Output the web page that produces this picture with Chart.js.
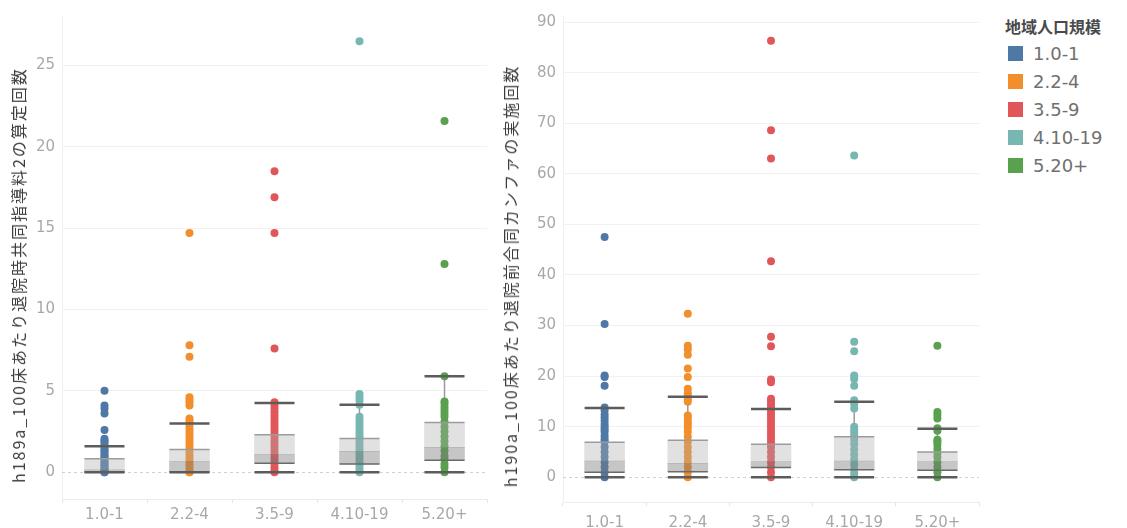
<!DOCTYPE html>
<html>
<head>
<meta charset="utf-8">
<script src="https://cdn.jsdelivr.net/npm/chart.js@4.4.1/dist/chart.umd.min.js"></script>
<style>
  html, body { margin: 0; padding: 0; background: #fff; width: 1127px; height: 528px; overflow: hidden; }
  .pane { position: absolute; top: 0; height: 528px; }
  #pane1 { left: 0; width: 495px; }
  #pane2 { left: 495px; width: 495px; }
  .ytitle {
    position: absolute; white-space: nowrap;
    font-family: "Noto Sans CJK JP", "Open Sans", sans-serif;
    font-size: 16px; color: #3c3c3c; letter-spacing: 2px;
    transform: translate(-50%, -50%) rotate(-90deg);
  }
  .legend { position: absolute; left: 1005px; top: 14px; font-family: "DejaVu Sans", sans-serif; }
  .legend .lt { font-family: "Noto Sans CJK JP", sans-serif; font-size: 16px; font-weight: bold; color: #4a4a4a; height: 24px; line-height: 24px; margin-bottom: 2px; }
  .legend .li { position: relative; height: 28px; line-height: 28px; font-size: 18px; color: #707070; padding-left: 28px; }
  .legend .sw { position: absolute; left: 3px; top: 6px; width: 15px; height: 15px; }
</style>
</head>
<body>
<div class="pane" id="pane1"><canvas id="c1" width="495" height="528"></canvas></div>
<div class="pane" id="pane2"><canvas id="c2" width="495" height="528"></canvas></div>
<div class="ytitle" id="t1" style="left:18px; top:275px;"></div>
<div class="ytitle" id="t2" style="left:510px; top:276px;"></div>
<div class="legend" id="legend"></div>

<script>
// Region size groups (categories) and their colours
const categories = ['1.0-1', '2.2-4', '3.5-9', '4.10-19', '5.20+'];
const colors = ['#4e79a7', '#f28e2b', '#e15759', '#76b7b2', '#59a14f'];
const legendTitle = '地域人口規模';

// h189a: per-hospital values by group
const h189Titles = 'h189a_100床あたり退院時共同指導料2の算定回数';
const h189g1 = [5.0, 4.1, 3.9, 3.6, 2.6, 2.05, 1.95, 1.85, 1.7, 1.55, 1.4, 1.3, 1.2, 1.05, 0.95, 0.85, 0.7, 0.6, 0.5, 0.4, 0.3, 0.2, 0.1, 0, 0];
const h189g2 = [14.7, 7.8, 7.1, 4.6, 4.45, 4.3, 4.1, 3.3, 3.15, 3.0, 2.8, 2.6, 2.4, 2.2, 2.0, 1.8, 1.6, 1.4, 1.2, 1.0, 0.8, 0.6, 0.4, 0.2, 0, 0];
const h189g3 = [18.5, 16.9, 14.7, 7.6, 4.3, 4.1, 3.9, 3.7, 3.5, 3.3, 3.1, 2.9, 2.7, 2.5, 2.3, 2.1, 1.9, 1.7, 1.5, 1.3, 1.1, 0.9, 0.7, 0.5, 0.3, 0.1, 0];
const h189g4 = [26.5, 4.8, 4.6, 4.4, 4.15, 3.4, 3.2, 3.0, 2.8, 2.6, 2.4, 2.2, 2.0, 1.8, 1.6, 1.4, 1.2, 1.0, 0.8, 0.6, 0.4, 0.2, 0];
const h189g5 = [21.6, 12.8, 5.9, 4.35, 4.2, 4.0, 3.8, 3.6, 3.4, 3.1, 2.8, 2.5, 2.2, 1.9, 1.6, 1.3, 1.0, 0.8, 0.5, 0.3, 0];
const h189Lo = [0, 0, 0, 0, 0];
const h189Q1 = [0, 0, 0.55, 0.5, 0.73];
const h189Med = [0.15, 0.67, 1.1, 1.28, 1.52];
const h189Q3 = [0.82, 1.4, 2.3, 2.07, 3.05];
const h189Hi = [1.6, 3.0, 4.25, 4.15, 5.9];
const h189Ticks = [0, 5, 10, 15, 20, 25];

// h190a: per-hospital values by group
const h190Titles = 'h190a_100床あたり退院前合同カンファの実施回数';
const h190g1 = [47.5, 30.3, 20.1, 19.8, 18.1, 13.8, 13.2, 12.4, 11.8, 11.2, 10.5, 10.0, 9.5, 9.0, 8.2, 7.5, 7.0, 6.0, 5.0, 4.0, 3.0, 2.0, 1.0, 0];
const h190g2 = [32.3, 26.0, 25.3, 24.2, 21.5, 19.8, 17.5, 16.6, 16.0, 15.4, 14.9, 12.2, 11.7, 11.0, 10.4, 9.8, 9.0, 8.0, 7.0, 6.0, 5.0, 4.0, 3.0, 2.0, 1.0, 0];
const h190g3 = [86.3, 68.6, 63.0, 42.7, 27.8, 25.9, 19.3, 18.8, 15.5, 15.0, 14.4, 13.8, 13.1, 12.4, 11.7, 11.0, 10.3, 9.6, 8.9, 8.2, 7.5, 6.8, 6.0, 5.0, 4.0, 3.0, 2.0, 1.0, 0];
const h190g4 = [63.6, 26.8, 24.9, 20.1, 19.4, 18.1, 15.2, 14.5, 13.6, 10.0, 9.4, 8.8, 8.2, 7.4, 6.5, 5.5, 4.5, 3.5, 2.5, 1.5, 0.7, 0];
const h190g5 = [26.0, 12.9, 12.3, 11.6, 9.7, 9.2, 7.4, 7.0, 6.4, 5.6, 4.8, 4.0, 3.0, 2.0, 1.0, 0];
const h190Lo = [0, 0, 0, 0, 0];
const h190Q1 = [1.0, 1.1, 1.9, 1.5, 1.4];
const h190Med = [3.2, 2.75, 3.1, 3.2, 3.1];
const h190Q3 = [6.9, 7.3, 6.5, 8.0, 5.0];
const h190Hi = [13.7, 15.9, 13.5, 14.9, 9.6];
const h190Ticks = [0, 10, 20, 30, 40, 50, 60, 70, 80, 90];

const FONT = '"DejaVu Sans", sans-serif';

// Whisker stems, caps, box edges and the dashed zero line
const boxDecor = {
  id: 'boxDecor',
  beforeDatasetsDraw(chart) {
    const st = chart.options.plugins.boxDecor;
    const { ctx, chartArea } = chart;
    const xs = chart.scales.x, ys = chart.scales.y;
    ctx.save();
    // zero line
    const y0 = Math.round(ys.getPixelForValue(0)) + 0.5;
    ctx.strokeStyle = '#d2d2d2';
    ctx.lineWidth = 1;
    ctx.setLineDash([3, 3]);
    ctx.beginPath();
    ctx.moveTo(chartArea.left, y0);
    ctx.lineTo(chartArea.right, y0);
    ctx.stroke();
    ctx.setLineDash([]);
    // whisker stems
    ctx.strokeStyle = '#9a9a9a';
    ctx.lineWidth = 1.5;
    categories.forEach((c, i) => {
      const x = xs.getPixelForValue(i);
      ctx.beginPath();
      ctx.moveTo(x, ys.getPixelForValue(st.q3[i]));
      ctx.lineTo(x, ys.getPixelForValue(st.hi[i]));
      ctx.moveTo(x, ys.getPixelForValue(st.q1[i]));
      ctx.lineTo(x, ys.getPixelForValue(st.lo[i]));
      ctx.stroke();
    });
    ctx.restore();
  },
  afterDatasetsDraw(chart) {
    const st = chart.options.plugins.boxDecor;
    const { ctx } = chart;
    const xs = chart.scales.x, ys = chart.scales.y;
    const boxMeta = chart.getDatasetMeta(categories.length);
    ctx.save();
    categories.forEach((c, i) => {
      const x = xs.getPixelForValue(i);
      const half = boxMeta.data[i].width / 2;
      const hline = (v, color, w) => {
        const y = ys.getPixelForValue(v);
        ctx.strokeStyle = color;
        ctx.lineWidth = w;
        ctx.beginPath();
        ctx.moveTo(x - half, y);
        ctx.lineTo(x + half, y);
        ctx.stroke();
      };
      hline(st.q3[i], '#9c9c9c', 1.5);
      hline(st.q1[i], '#6a6a6a', 1.5);
      hline(st.hi[i], '#5c5c5c', 2.5);
      hline(st.lo[i], '#5c5c5c', 2.5);
    });
    ctx.restore();
  }
};

function makeChart(canvasId, groups, stats, yMin, yMax, ticks, area) {
  const datasets = groups.map((vals, i) => ({
    type: 'line',
    label: categories[i],
    data: vals.map(v => ({ x: categories[i], y: v })),
    showLine: false,
    pointRadius: 4,
    pointHoverRadius: 4,
    pointBorderWidth: 0,
    pointBackgroundColor: colors[i],
    order: 3
  }));
  // lower box (Q1 to median) and upper box (median to Q3)
  datasets.push({
    type: 'bar',
    data: stats.q1.map((v, i) => [v, stats.med[i]]),
    backgroundColor: 'rgba(118,118,118,0.42)',
    barThickness: 40, grouped: false, borderWidth: 0, order: 1
  });
  datasets.push({
    type: 'bar',
    data: stats.med.map((v, i) => [v, stats.q3[i]]),
    backgroundColor: 'rgba(172,172,172,0.36)',
    barThickness: 40, grouped: false, borderWidth: 0, order: 1
  });

  return new Chart(document.getElementById(canvasId), {
    type: 'bar',
    data: { labels: categories, datasets },
    plugins: [boxDecor],
    options: {
      responsive: false,
      animation: false,
      events: [],
      layout: { padding: { left: 0, top: area.top, right: area.right, bottom: 0 } },
      plugins: {
        legend: { display: false },
        tooltip: { enabled: false },
        boxDecor: stats
      },
      scales: {
        x: {
          type: 'category',
          offset: true,
          afterFit: s => { s.height = area.xHeight; },
          grid: { offset: true, drawOnChartArea: false, drawTicks: true, tickLength: 4, color: '#e4e4e4' },
          border: { display: true, color: '#ececec' },
          ticks: { color: '#a8a8a8', font: { family: FONT, size: 15 }, padding: area.xPad, maxRotation: 0 }
        },
        y: {
          type: 'linear',
          min: yMin, max: yMax,
          afterFit: s => { s.width = area.yWidth; },
          afterBuildTicks: s => { s.ticks = ticks.map(v => ({ value: v })); },
          grid: { drawTicks: false, color: ctx => (ctx.tick && ctx.tick.value === 0) ? 'rgba(0,0,0,0)' : '#f1f1f1' },
          border: { display: true, color: '#efefef' },
          ticks: { color: '#a8a8a8', font: { family: FONT, size: 15 }, padding: 7 }
        }
      }
    }
  });
}

makeChart('c1', [h189g1, h189g2, h189g3, h189g4, h189g5],
  { q1: h189Q1, med: h189Med, q3: h189Q3, lo: h189Lo, hi: h189Hi },
  -1.65, 28.05, h189Ticks, { top: 8, right: 8, xHeight: 29, yWidth: 62, xPad: 3 });

makeChart('c2', [h190g1, h190g2, h190g3, h190g4, h190g5],
  { q1: h190Q1, med: h190Med, q3: h190Q3, lo: h190Lo, hi: h190Hi },
  -4.9, 91.2, h190Ticks, { top: 9, right: 11, xHeight: 26, yWidth: 68, xPad: 8 });

document.getElementById('t1').textContent = h189Titles;
document.getElementById('t2').textContent = h190Titles;

// legend
const lg = document.getElementById('legend');
const lt = document.createElement('div');
lt.className = 'lt';
lt.textContent = legendTitle;
lg.appendChild(lt);
categories.forEach((c, i) => {
  const row = document.createElement('div');
  row.className = 'li';
  const sw = document.createElement('span');
  sw.className = 'sw';
  sw.style.background = colors[i];
  row.appendChild(sw);
  row.appendChild(document.createTextNode(c));
  lg.appendChild(row);
});
</script>
</body>
</html>
